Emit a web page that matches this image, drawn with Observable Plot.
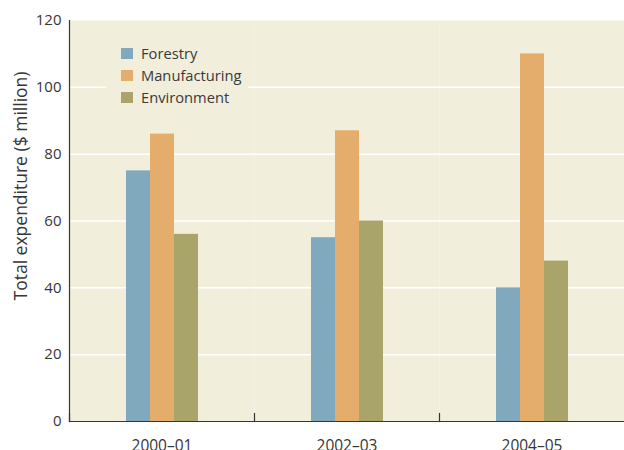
<!DOCTYPE html>
<html>
<head>
<meta charset="utf-8">
<script src="https://cdn.jsdelivr.net/npm/d3@7"></script>
<script src="https://cdn.jsdelivr.net/npm/@observablehq/plot@0.6"></script>
<style>
  html, body { margin: 0; padding: 0; background: #fff; }
  #wrap { position: relative; width: 624px; height: 450px; overflow: hidden; font-family: "Open Sans", sans-serif; }
  #legend { position: absolute; left: 106px; top: 42px; width: 127px; padding: 0 0 8px 15px; background: #f1eedb; }
  #legend .lg-swatches { margin: 0 !important; min-height: 0 !important; display: block !important; columns: auto !important; }
  #legend .lg-swatch { display: flex !important; align-items: center; height: 22px; padding: 0 !important; margin: 0 !important; font-size: 14.7px; color: #3a3a3a; font-family: "Open Sans", sans-serif; }
  #legend .lg-swatch svg { margin-right: 8px !important; }
  #legend .lg-swatch-label { font-size: 14.7px; color: #3a3a3a; white-space: nowrap; overflow: visible; }
</style>
</head>
<body>
<div id="wrap"><div id="legend"></div></div>
<script>
const years = ["2000–01", "2002–03", "2004–05"];
const series = ["Forestry", "Manufacturing", "Environment"];
const forestry = [75, 55, 40];
const manufacturing = [86, 87, 110];
const environment = [56, 60, 48];
const colors = ["#80a9be", "#e5ad6c", "#a9a46a"];
const yTicks = [0, 20, 40, 60, 80, 100, 120];
const gridTicks = [20, 40, 60, 80, 100];
const yLabel = "Total expenditure ($ million)";

const values = [forestry, manufacturing, environment];
const data = [];
years.forEach((yr, i) => series.forEach((s, j) => data.push({year: yr, series: s, value: values[j][i]})));

const W = 624, H = 450, mt = 20, mb = 29, ml = 69, mr = 0;
const bg = "#f1eedb";
const ink = "#363636";

const chart = Plot.plot({
  width: W, height: H,
  marginTop: mt, marginBottom: mb, marginLeft: ml, marginRight: mr,
  style: {fontFamily: "'Open Sans', sans-serif", fontSize: "14px", color: ink, background: "transparent"},
  fx: {domain: years, padding: 0, label: null},
  x: {domain: series, paddingInner: 0, paddingOuter: 2.354, axis: null},
  y: {domain: [0, 120], axis: null},
  color: {domain: series, range: colors},
  marks: [
    Plot.frame({fill: bg, stroke: null}),
    Plot.gridY(gridTicks, {stroke: "#ffffff", strokeOpacity: 1, strokeWidth: 1.5}),
    Plot.barY(data, {fx: "year", x: "series", y: "value", fill: "series"}),
    Plot.ruleY([0], {stroke: ink, strokeWidth: 1.2}),
    Plot.frame({anchor: "left", insetTop: H - mt - mb - 8, stroke: ink, strokeWidth: 1.2}),
    Plot.frame({anchor: "left", facetAnchor: "left", stroke: ink, strokeWidth: 1.2}),
    Plot.axisY(yTicks, {tickSize: 0, tickPadding: 8, label: null, fontSize: 15, color: ink}),
    Plot.axisFx({anchor: "bottom", tickSize: 0, tickPadding: 18, label: null, fontSize: 15.5, color: ink})
  ]
});

d3.select(chart).append("text")
  .attr("transform", `translate(27, 186) rotate(-90)`)
  .attr("text-anchor", "middle")
  .attr("fill", ink)
  .attr("font-family", "'Open Sans', sans-serif")
  .attr("font-size", 17.5)
  .text(yLabel);

document.getElementById("wrap").insertBefore(chart, document.getElementById("legend"));

const leg = chart.legend("color", {legend: "swatches", columns: 1, swatchWidth: 12, swatchHeight: 11, className: "lg"});
document.getElementById("legend").appendChild(leg);
</script>
</body>
</html>
